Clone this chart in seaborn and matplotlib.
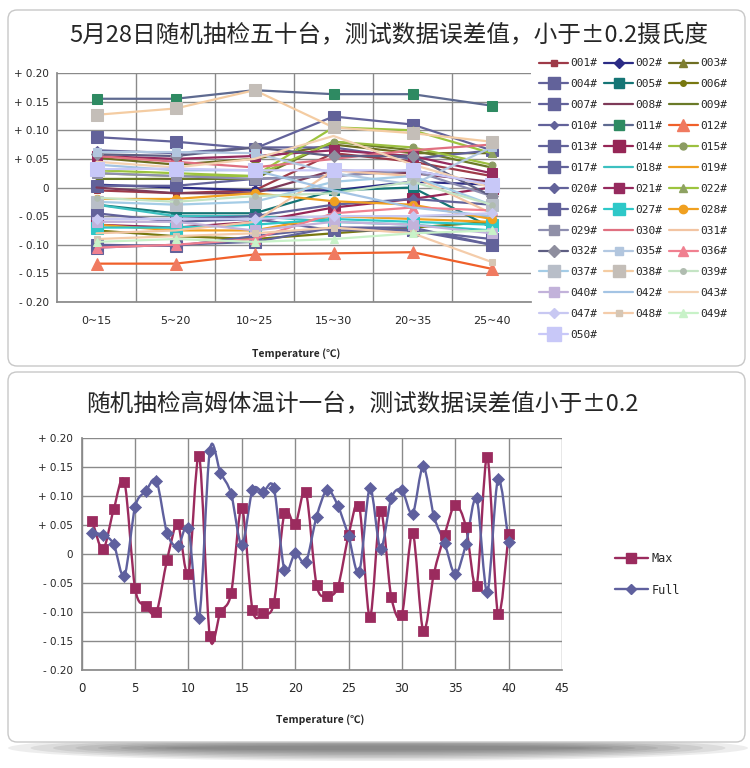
import numpy as np
import pandas as pd
import matplotlib
matplotlib.use("Agg")
import matplotlib.pyplot as plt
import seaborn as sns
from matplotlib.path import Path
from matplotlib.patches import PathPatch, FancyBboxPatch, Ellipse
from matplotlib.lines import Line2D

sns.set_theme(style="white")
plt.rcParams['font.family'] = ['Noto Sans CJK SC', 'DejaVu Sans']
plt.rcParams['axes.unicode_minus'] = False

# ---- top chart data: 40 thermometers, error per temperature range ----
temp_ranges = ["0~15", "5~20", "10~25", "15~30", "20~35", "25~40"]

s001 = [-0.005, -0.010, -0.005, 0.060, 0.045, 0.020]
s002 = [0.005, 0.000, -0.005, -0.005, 0.010, 0.005]
s003 = [0.052, 0.040, 0.050, 0.075, 0.060, 0.060]
s004 = [0.003, 0.003, 0.015, 0.020, 0.030, 0.005]
s005 = [-0.030, -0.045, -0.045, -0.005, 0.000, -0.070]
s006 = [-0.075, -0.085, -0.090, -0.080, -0.070, -0.060]
s007 = [-0.105, -0.100, -0.095, -0.070, -0.075, -0.100]
s008 = [0.000, -0.010, -0.010, 0.030, 0.025, 0.010]
s009 = [0.015, 0.015, 0.015, 0.080, 0.065, 0.035]
s010 = [0.065, 0.060, 0.070, 0.070, 0.050, 0.065]
s011 = [0.155, 0.155, 0.170, 0.163, 0.163, 0.143]
s012 = [-0.133, -0.133, -0.117, -0.115, -0.113, -0.142]
s013 = [0.088, 0.080, 0.068, 0.124, 0.110, 0.065]
s014 = [-0.065, -0.070, -0.060, -0.035, -0.020, 0.000]
s015 = [0.025, 0.020, 0.020, 0.080, 0.070, 0.040]
s017 = [-0.045, -0.060, -0.055, -0.075, -0.075, -0.090]
s018 = [-0.030, -0.050, -0.050, -0.060, -0.065, -0.075]
s019 = [-0.065, -0.075, -0.075, -0.050, -0.055, -0.060]
s020 = [-0.055, -0.055, -0.050, -0.030, -0.020, -0.030]
s021 = [0.055, 0.050, 0.055, 0.065, 0.055, 0.025]
s022 = [0.030, 0.025, 0.020, 0.105, 0.100, 0.060]
s026 = [-0.100, -0.102, -0.085, -0.070, -0.070, -0.100]
s027 = [-0.070, -0.070, -0.065, -0.055, -0.060, -0.065]
s028 = [-0.020, -0.020, -0.010, -0.024, -0.030, -0.055]
s029 = [0.025, 0.020, 0.015, 0.020, 0.030, -0.015]
s030 = [0.055, 0.045, 0.035, 0.050, 0.065, 0.075]
s031 = [-0.080, -0.075, -0.060, 0.030, 0.020, -0.045]
s032 = [0.058, 0.055, 0.070, 0.055, 0.055, -0.015]
s035 = [0.062, 0.062, 0.060, 0.025, 0.005, 0.070]
s036 = [-0.105, -0.100, -0.090, -0.045, -0.035, -0.040]
s037 = [-0.025, -0.030, -0.025, 0.010, 0.020, -0.030]
s038 = [0.127, 0.138, 0.170, 0.105, 0.095, 0.080]
s039 = [-0.018, -0.025, -0.015, -0.010, 0.010, -0.030]
s040 = [-0.060, -0.060, -0.075, -0.060, -0.065, -0.080]
s042 = [0.040, 0.030, 0.030, -0.005, -0.035, -0.050]
s043 = [0.045, 0.035, 0.050, 0.090, 0.040, 0.000]
s047 = [-0.055, -0.055, -0.055, -0.050, -0.050, -0.045]
s048 = [-0.090, -0.085, -0.080, -0.070, -0.080, -0.130]
s049 = [-0.095, -0.090, -0.095, -0.090, -0.080, -0.075]
s050 = [0.032, 0.033, 0.030, 0.030, 0.030, 0.005]

series_ids = ["001", "002", "003", "004", "005", "006", "007", "008", "009", "010",
              "011", "012", "013", "014", "015", "017", "018", "019", "020", "021",
              "022", "026", "027", "028", "029", "030", "031", "032", "035", "036",
              "037", "038", "039", "040", "042", "043", "047", "048", "049", "050"]
series_vals = [s001, s002, s003, s004, s005, s006, s007, s008, s009, s010,
               s011, s012, s013, s014, s015, s017, s018, s019, s020, s021,
               s022, s026, s027, s028, s029, s030, s031, s032, s035, s036,
               s037, s038, s039, s040, s042, s043, s047, s048, s049, s050]

# ---- bottom chart data: one thermometer, 40 readings ----
reading_no = np.arange(1, 41)
max_vals = [0.057, 0.008, 0.077, 0.125, -0.059, -0.090, -0.100, -0.010, 0.051, -0.034,
            0.169, -0.142, -0.100, -0.068, 0.080, -0.096, -0.102, -0.085, 0.071, 0.051,
            0.107, -0.053, -0.072, -0.057, 0.032, 0.083, -0.109, 0.074, -0.074, -0.105,
            0.037, -0.133, -0.034, 0.033, 0.085, 0.047, -0.055, 0.168, -0.104, 0.035]
full_vals = [0.036, 0.033, 0.017, -0.038, 0.081, 0.108, 0.126, 0.036, 0.013, 0.044,
             -0.110, 0.178, 0.140, 0.104, 0.015, 0.110, 0.107, 0.114, -0.028, 0.001,
             -0.014, 0.064, 0.111, 0.083, 0.031, -0.031, 0.114, 0.009, 0.096, 0.110,
             0.069, 0.151, 0.065, 0.019, -0.035, 0.017, 0.096, -0.066, 0.129, 0.021]

# styles: line colour, marker, marker colour, marker size
slate = '#62629A'
styles = {
    '001': ('#9E3A48', 's', '#9E3A48', 5), '002': ('#2B2B85', 'D', '#2B2B85', 5),
    '003': ('#6E6E22', '^', '#7E7E30', 6), '004': (slate, 's', slate, 9),
    '005': ('#157575', 's', '#157575', 7), '006': ('#787810', 'o', '#787810', 4),
    '007': (slate, 's', slate, 8), '008': ('#7E3A58', None, None, 0),
    '009': ('#6A7A28', None, None, 0), '010': (slate, 'D', slate, 4),
    '011': ('#5E6A90', 's', '#2E8A62', 7), '012': ('#F0602A', '^', '#F07A60', 8),
    '013': (slate, 's', slate, 9), '014': ('#962656', 's', '#962656', 8),
    '015': ('#9CC040', 'o', '#8C9C62', 5), '017': (slate, 's', slate, 8),
    '018': ('#3CC0C0', None, None, 0), '019': ('#F0A020', None, None, 0),
    '020': (slate, 'D', slate, 5), '021': ('#962A5E', 's', '#962A5E', 7),
    '022': ('#9CC43E', '^', '#8EA262', 6), '026': (slate, 's', slate, 8),
    '027': ('#2EC8C8', 's', '#2EC8C8', 8), '028': ('#F0A020', 'o', '#F0A020', 6),
    '029': ('#8E8EB0', 's', '#9090A8', 7), '030': ('#E07080', None, None, 0),
    '031': ('#F2C4A2', None, None, 0), '032': ('#5E5E82', 'D', '#8E8E9E', 6),
    '035': ('#B2C8E2', 's', '#B2C6DE', 6), '036': ('#F08090', '^', '#F08090', 7),
    '037': ('#A4CCE6', 's', '#B8BEC8', 8), '038': ('#F4CCA2', 's', '#C4BEB8', 8),
    '039': ('#C4E4C4', 'o', '#B0BCB0', 4), '040': ('#C2B2DA', 's', '#C2B2DA', 7),
    '042': ('#A4C4E4', None, None, 0), '043': ('#F4D2B2', None, None, 0),
    '047': ('#C8C8F2', 'D', '#C8C8F2', 5), '048': ('#F4CCAA', 's', '#D6C6B4', 5),
    '049': ('#C8F2C8', '^', '#C8F2C8', 6), '050': ('#C8C8F8', 's', '#C8C8F8', 10),
}

W, H = 750, 768
fig = plt.figure(figsize=(W / 100, H / 100), dpi=100)


def fx(px):
    return px / W


def fy(py):
    return 1 - py / H


def ytick_label(v):
    if abs(v) < 1e-9:
        return "0"
    return ("+ %.2f" % v) if v > 0 else ("- %.2f" % abs(v))


# panel frames and bottom shadow
for k in range(8):
    fig.patches.append(Ellipse((fx(378), fy(748)), fx(740 - k * 45), (26 - k * 3) / H,
                               transform=fig.transFigure, facecolor='#000000',
                               alpha=0.07, edgecolor='none', zorder=-3))
for top, bot in [(10, 366), (372, 742)]:
    fig.patches.append(FancyBboxPatch((fx(8), fy(bot)), fx(737), (bot - top) / H,
                                      boxstyle="round,pad=0,rounding_size=0.012",
                                      transform=fig.transFigure, facecolor='white',
                                      edgecolor='#C8C8C8', lw=1.0, zorder=-1))

grid_col = '#8A8A8A'
yticks = np.arange(-0.2, 0.2001, 0.05)
tick_font = ['DejaVu Sans']

# ---------------- top chart ----------------
ax1 = fig.add_axes([fx(57), fy(302), fx(474), 229 / H])
pos = np.arange(len(temp_ranges))
handles = []
for sid, vals in zip(series_ids, series_vals):
    lc, mk, mc, ms = styles[sid]
    df = pd.DataFrame({'pos': pos, 'err': vals})
    sns.lineplot(data=df, x='pos', y='err', ax=ax1, color=lc, lw=1.6,
                 marker=mk, markersize=ms, markerfacecolor=mc, markeredgecolor=mc,
                 legend=False)
    handles.append(Line2D([0], [0], color=lc, lw=1.6, marker=mk, markersize=ms,
                          markerfacecolor=mc, markeredgecolor=mc, label=sid + "#"))

ax1.set_xlim(-0.5, 5.5)
ax1.set_ylim(-0.2, 0.2)
ax1.set_xticks(pos)
ax1.set_xticklabels(temp_ranges, fontsize=8, family=tick_font)
ax1.set_xticks(np.arange(0.5, 5.0, 1.0), minor=True)
ax1.set_yticks(yticks)
ax1.set_yticklabels([ytick_label(v) for v in yticks], fontsize=7.5, family=tick_font)
ax1.grid(True, axis='y', which='major', color=grid_col, lw=1)
ax1.grid(True, axis='x', which='minor', color=grid_col, lw=1)
ax1.tick_params(axis='y', which='both', length=0, pad=6)
ax1.tick_params(axis='x', which='both', length=0, pad=10)
for side in ['top', 'right']:
    ax1.spines[side].set_visible(False)
for side in ['left', 'bottom']:
    ax1.spines[side].set_color(grid_col)
ax1.set_xlabel("")
ax1.set_ylabel("")

# row-wise legend: reorder for matplotlib's column filling
ncol = 3
ordered = [handles[i] for c in range(ncol) for i in range(c, len(handles), ncol)]
fig.legend(handles=ordered, loc='upper left', bbox_to_anchor=(fx(535), fy(54)),
           ncol=ncol, frameon=False, prop={'family': 'DejaVu Sans Mono', 'size': 8},
           handlelength=2.6, handletextpad=0.2, columnspacing=0.6, labelspacing=0.98,
           borderaxespad=0)

fig.text(fx(389), fy(36), "5月28日随机抽检五十台，测试数据误差值，小于±0.2摄氏度",
         ha='center', va='center', fontsize=17)
fig.text(fx(296), fy(354), "Temperature (℃)", ha='center', va='center',
         fontsize=7.5, fontweight='bold')

# ---------------- bottom chart ----------------
ax2 = fig.add_axes([fx(81.7), fy(670), fx(480.3), 232 / H])


def smooth_line(ax, xs, ys, color):
    pts = np.column_stack([xs, ys]).astype(float)
    n = len(pts)
    verts = [pts[0]]
    codes = [Path.MOVETO]
    for i in range(n - 1):
        p0 = pts[i - 1] if i > 0 else pts[i]
        p1, p2 = pts[i], pts[i + 1]
        p3 = pts[i + 2] if i + 2 < n else pts[i + 1]
        verts += [p1 + (p2 - p0) / 6.5, p2 - (p3 - p1) / 6.5, p2]
        codes += [Path.CURVE4] * 3
    ax.add_patch(PathPatch(Path(verts, codes), fill=False, edgecolor=color, lw=1.7,
                           zorder=2))


max_col = '#9B2B5E'
full_col = '#5F609E'
smooth_line(ax2, reading_no, max_vals, max_col)
smooth_line(ax2, reading_no, full_vals, full_col)
sns.scatterplot(x=reading_no, y=max_vals, ax=ax2, marker='s', s=48, color=max_col,
                edgecolor=max_col, zorder=3, legend=False)
sns.scatterplot(x=reading_no, y=full_vals, ax=ax2, marker='D', s=38, color=full_col,
                edgecolor=full_col, zorder=3, legend=False)

ax2.set_xlim(0, 45)
ax2.set_ylim(-0.2, 0.2)
ax2.set_xticks(np.arange(0, 46, 5))
ax2.set_xticklabels([str(v) for v in range(0, 46, 5)], fontsize=8.5, family=tick_font)
ax2.set_yticks(yticks)
ax2.set_yticklabels([ytick_label(v) for v in yticks], fontsize=7.5, family=tick_font)
ax2.grid(True, color=grid_col, lw=1)
ax2.tick_params(axis='y', length=0, pad=6)
ax2.tick_params(axis='x', length=0, pad=9)
for side in ['top', 'right']:
    ax2.spines[side].set_visible(False)
for side in ['left', 'bottom']:
    ax2.spines[side].set_color(grid_col)

leg_handles = [Line2D([0], [0], color=max_col, lw=1.7, marker='s', markersize=6.5,
                      markerfacecolor=max_col, markeredgecolor=max_col, label='Max'),
               Line2D([0], [0], color=full_col, lw=1.7, marker='D', markersize=5.5,
                      markerfacecolor=full_col, markeredgecolor=full_col, label='Full')]
fig.legend(handles=leg_handles, loc='upper left', bbox_to_anchor=(fx(610), fy(547)),
           frameon=False, prop={'family': 'DejaVu Sans Mono', 'size': 8.5},
           handlelength=2.8, handletextpad=0.3, labelspacing=1.6, borderaxespad=0)

fig.text(fx(362), fy(405), "随机抽检高姆体温计一台，测试数据误差值小于±0.2",
         ha='center', va='center', fontsize=17)
fig.text(fx(320), fy(720), "Temperature (℃)", ha='center', va='center',
         fontsize=7.5, fontweight='bold')

fig.savefig("out.png", dpi=100)
